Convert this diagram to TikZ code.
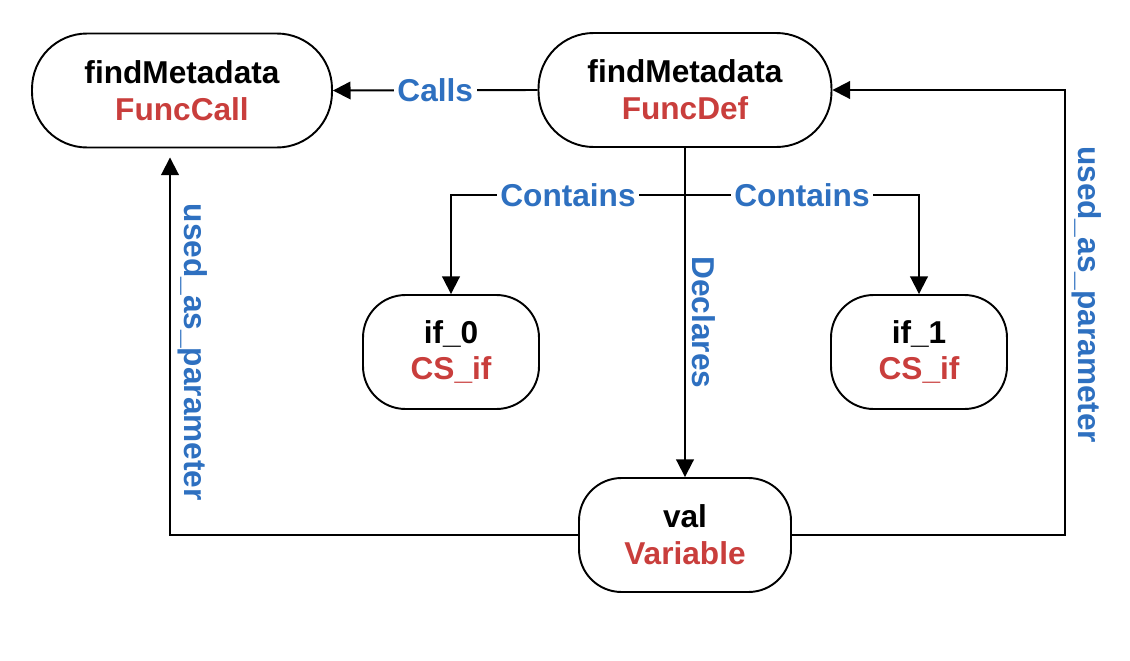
\documentclass[tikz,border=0pt]{standalone}
\usepackage{fontspec}
\setmainfont{Liberation Sans}
\usetikzlibrary{arrows.meta}
\definecolor{kindred}{RGB}{201,62,60}
\definecolor{edgeblue}{RGB}{46,112,192}
\begin{document}
\begin{tikzpicture}
            [x=0.02cm, y=-0.02cm,
            box/.style={draw, line width=1.1pt, rounded corners=0.85cm, minimum height=2.28cm, align=center, font=\fontsize{18}{21}\selectfont\bfseries},
            wide/.style={rounded corners=1.1cm},
            edge/.style={line width=1.1pt, -{Triangle[length=10pt,width=10pt]}},
            lbl/.style={fill=white, text=edgeblue, inner sep=2pt, font=\fontsize{18}{21}\selectfont\bfseries},
            vlbl/.style={text=edgeblue, rotate=-90, anchor=south, inner sep=0.13cm, font=\fontsize{18}{21}\selectfont\bfseries}]

            \useasboundingbox (0,0) rectangle (1130,660);

            \node[box, wide, minimum width=6cm] (fcall) at (182,90.5) {findMetadata\\\textcolor{kindred}{FuncCall}};
            \node[box, wide, minimum width=5.86cm] (fdef) at (685,90) {findMetadata\\\textcolor{kindred}{FuncDef}};
            \node[box, minimum width=3.52cm] (if0) at (451,352) {if\_0\\\textcolor{kindred}{CS\_if}};
            \node[box, minimum width=3.52cm] (if1) at (919,352) {if\_1\\\textcolor{kindred}{CS\_if}};
            \node[box, minimum width=4.24cm] (val) at (685,535) {val\\\textcolor{kindred}{Variable}};

            % Calls and Declares
            \draw[edge] (fdef.west) -- node[lbl] {Calls} (fcall.east);
            \draw[edge] (fdef.south) -- node[vlbl, pos=0.53] {Declares} (val.north);

            % Contains, split below FuncDef
            \draw[edge] (fdef.south) -- ([yshift=-0.94cm]fdef.south) -| node[lbl, pos=0.25] {Contains} (if0.north);
            \draw[edge] (fdef.south) -- ([yshift=-0.94cm]fdef.south) -| node[lbl, pos=0.25] {Contains} (if1.north);

            % used_as_parameter back to the function
            \draw[edge] (val.west) -| node[vlbl, pos=0.742] {used\_as\_parameter} ([xshift=-0.24cm, yshift=-0.18cm]fcall.south);
            \draw[edge] (val.east) -- ++(273,0) |- node[vlbl, pos=0.27] {used\_as\_parameter} (fdef.east);

        \end{tikzpicture}
\end{document}
